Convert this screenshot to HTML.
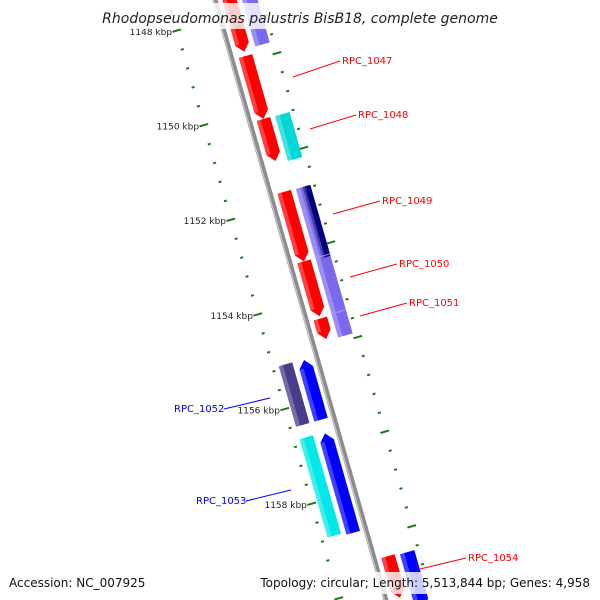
<!DOCTYPE html>
<html><head><meta charset="utf-8"><style>
html,body{margin:0;background:#fff;width:600px;height:600px;overflow:hidden;}
svg{display:block;font-family:"DejaVu Sans","Liberation Sans",sans-serif;}
</style></head><body>
<svg id="map" width="600" height="600" viewBox="0 0 600 600" xmlns="http://www.w3.org/2000/svg" style="overflow:hidden">
<g id="rot" transform="translate(215,0) rotate(-15.9)"></g>
<g id="labels"></g>
<rect x="0" y="3" width="600" height="26" fill="#fff" opacity="0.8"/>
<text x="300" y="23" text-anchor="middle" font-size="14" font-style="italic" fill="#222">Rhodopseudomonas palustris BisB18, complete genome</text>
<rect x="0" y="572" width="600" height="22" fill="#fff" opacity="0.8"/>
<text x="9" y="587" font-size="12" fill="#111">Accession: NC_007925</text>
<text x="590" y="587" text-anchor="end" font-size="12" fill="#111">Topology: circular; Length: 5,513,844 bp; Genes: 4,958</text>
</svg>
<script>
// gene data (kbp)
const geneStart=[1147.2,1148.88,1150.21,1151.75,1153.22,1154.43,1159.45,1147.2,1150.22,1151.76,1151.76,1159.48,1155.15,1156.70,1155.13,1156.67];
const geneEnd  =[1148.79,1150.21,1151.10,1153.22,1154.38,1154.86,1160.33,1148.75,1151.17,1154.90,1153.26,1160.52,1156.41,1158.80,1156.41,1158.75];
const geneLane =[1,1,1,1,1,1,1,2,2,2,3,2,-1,-1,-2,-2];
const geneDir  =[1,1,1,1,1,1,1,0,0,0,0,0,-1,-1,0,0];
const geneColor=["#ff0000","#ff0000","#ff0000","#ff0000","#ff0000","#ff0000","#ff0000","#7b68ee","#00d8d8","#7b68ee","#000080","#0000ff","#0000ff","#0000ff","#483d8b","#00e8e8"];
const tickStart=1147.4, tickEnd=1160.4, tickStep=0.2;
const labelKb=[1148,1150,1152,1154,1156,1158];
const geneLabels=["RPC_1047","RPC_1048","RPC_1049","RPC_1050","RPC_1051","RPC_1054","RPC_1052","RPC_1053"];
const geneLabelColor=["red","red","red","red","red","red","blue","blue"];
const geneLabelX=[342,358,382,399,409,468,174,196];
const geneLabelY=[64,118,204,267,306,561,412,504];
const leaderFrom=[[293,77],[310,129],[333,214],[350,277],[360,316],[420,569],[270,398],[291,490]];

const NS="http://www.w3.org/2000/svg";
const rot=document.getElementById('rot'), labs=document.getElementById('labels');
function yScale(kb){return 18.9+(kb-1148)*49.2;}
const lanes={1:[7,21],2:[26,41],3:[33,41],"-1":[-20,-6],"-2":[-39,-25]};
function mk(tag,attrs,parent){const e=document.createElementNS(NS,tag);for(const k in attrs)e.setAttribute(k,attrs[k]);parent.appendChild(e);return e;}
function toScreen(x,y){const c=Math.cos(-15.9*Math.PI/180),s=Math.sin(-15.9*Math.PI/180);return [215+x*c-y*s, x*s+y*c];}

// backbone
const bb=mk('line',{x1:0,y1:-50,x2:0,y2:640,stroke:'#8c8c8c','stroke-width':5},rot);


mk('line',{x1:-1.5,y1:-50,x2:-1.5,y2:640,stroke:'#c8c8c8','stroke-width':1.2},rot);

// ticks
const nT=Math.round((tickEnd-tickStart)/tickStep);
for(let i=0;i<=nT;i++){
  const kb=tickStart+i*tickStep; const idx=Math.round(kb/tickStep);
  const left=idx%2===0; const major=Math.abs(kb-Math.round(kb))<1e-6;
  const y=yScale(kb); if(y>630) continue;
  const cx=left?-45:45; const len=major?9:3;
  const t=mk('line',{x1:cx-len/2,y1:y,x2:cx+len/2,y2:y,stroke:'#1a7a1a','stroke-width':2},rot);
  
  
}
labelKb.forEach(kb=>{
  const p=toScreen(-50,yScale(kb));
  const t=mk('text',{x:p[0],y:p[1]+3,'text-anchor':'end','font-size':9,fill:'#222'},labs);
  t.textContent=kb+' kbp';
  
  
});

// genes
for(let i=0;i<geneStart.length;i++){
  const [x0,x1]=lanes[geneLane[i]]; const y0=yScale(geneStart[i]), y1=yScale(geneEnd[i]);
  const d=geneDir[i], h=Math.min(8,(y1-y0)/2), xm=(x0+x1)/2; let pts;
  if(d===1) pts=[[x0,y0],[x1,y0],[x1,y1-h],[xm,y1],[x0,y1-h]];
  else if(d===-1) pts=[[xm,y0],[x1,y0+h],[x1,y1],[x0,y1],[x0,y0+h]];
  else pts=[[x0,y0],[x1,y0],[x1,y1],[x0,y1]];
  const g=mk('polygon',{points:pts.map(p=>p.join(',')).join(' '),fill:geneColor[i]},rot);
  
  
  const w=(x1-x0)*0.3;
  const hl=mk('rect',{x:x0,y:y0+(d===-1?h:0),width:w,height:(y1-y0)-(d!==0?h:0),fill:'#fff',opacity:0.25},rot);
  
  
}
[1153.22,1154.40].forEach(kb=>{mk('line',{x1:26,y1:yScale(kb),x2:41,y2:yScale(kb),stroke:'#a89cf5','stroke-width':1},rot);});

// gene labels
geneLabels.forEach((name,i)=>{
  const blue=geneLabelColor[i]==='blue';
  const ex=blue?geneLabelX[i]+50:geneLabelX[i]-2, ey=geneLabelY[i]-3;
  const l=mk('line',{x1:leaderFrom[i][0],y1:leaderFrom[i][1],x2:ex,y2:ey,stroke:geneLabelColor[i],'stroke-width':1},labs);
  
  
  const t=mk('text',{x:geneLabelX[i],y:geneLabelY[i],'font-size':10,fill:geneLabelColor[i]},labs);
  t.textContent=name;
  
  
});
</script>
</body></html>
